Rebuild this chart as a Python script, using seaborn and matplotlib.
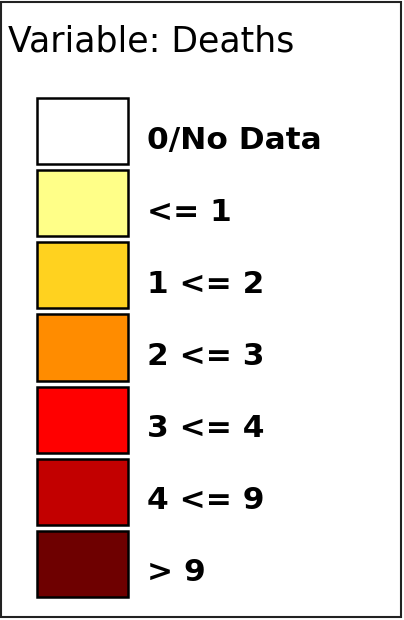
import matplotlib
matplotlib.use("Agg")
import matplotlib.pyplot as plt
import matplotlib.transforms as mtransforms
from matplotlib.patches import Rectangle
import pandas as pd
import seaborn as sns

# legend classes and their fill colours
classes = ['0/No Data', '<= 1', '1 <= 2', '2 <= 3', '3 <= 4', '4 <= 9', '> 9']
colors = ['#ffffff', '#ffff88', '#ffd21f', '#ff8c00', '#ff0000', '#c20000', '#6e0000']
swatch = [1, 1, 1, 1, 1, 1, 1]
title = 'Variable: Deaths'

df = pd.DataFrame({'cls': classes, 'val': swatch})

sns.set_style('white')
plt.rcParams['font.family'] = ['DejaVu Sans']
plt.rcParams['text.color'] = 'black'
plt.rcParams['ytick.color'] = 'black'

fig = plt.figure(figsize=(4.04, 6.2), dpi=100)
ax = fig.add_axes([37 / 404, 20 / 620, 91 / 404, 505 / 620])

sns.barplot(data=df, x='val', y='cls', hue='cls', palette=colors, order=classes,
            hue_order=classes, width=0.915, edgecolor='black', linewidth=1.8,
            saturation=1, legend=False, ax=ax)
for p in ax.patches:
    p.set_clip_on(False)

ax.set_xlim(0, 1)
ax.set_ylim(6.5, -0.5)
ax.set_xlabel('')
ax.set_ylabel('')
ax.set_xticks([])
ax.yaxis.tick_right()
ax.tick_params(axis='y', length=0, pad=14, labelsize=22.5)
shift = mtransforms.ScaledTranslation(0, -6 / 100, fig.dpi_scale_trans)
for lab in ax.get_yticklabels():
    lab.set_fontweight('bold')
    lab.set_color('black')
    lab.set_transform(lab.get_transform() + shift)
sns.despine(ax=ax, left=True, bottom=True, right=True, top=True)

fig.text(8 / 404, 1 - 42 / 620, title, fontsize=25, va='center', ha='left',
         color='black')

# outer frame
fig.patches.append(Rectangle((1 / 404, 3 / 620), 400 / 404, 615 / 620,
                             transform=fig.transFigure, fill=False,
                             edgecolor='#222222', linewidth=1.5))

fig.savefig('out.png', dpi=100)
